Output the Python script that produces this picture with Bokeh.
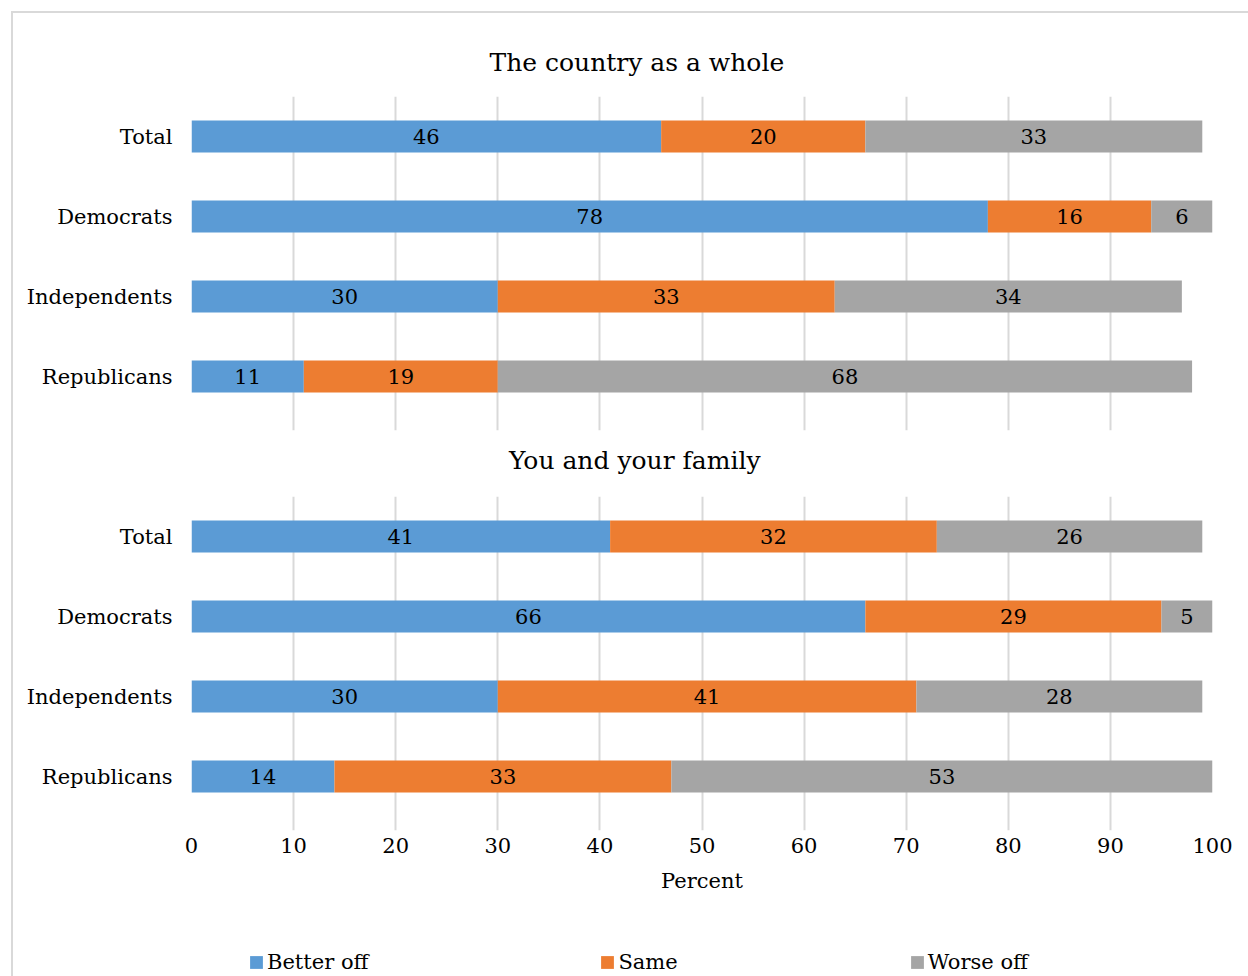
import numpy as np
from bokeh.plotting import figure
from bokeh.models import (Range1d, FixedTicker, Title, Legend, LegendItem, ColumnDataSource)
from bokeh.layouts import column
from bokeh.core.properties import value
from bokeh.embed import file_html
from bokeh.resources import INLINE

# ---------------- data ----------------
groups = ["Total", "Democrats", "Independents", "Republicans"]
series_names = ["Better off", "Same", "Worse off"]

country_better = [46, 78, 30, 11]
country_same = [20, 16, 33, 19]
country_worse = [33, 6, 34, 68]

family_better = [41, 66, 30, 14]
family_same = [32, 29, 41, 33]
family_worse = [26, 5, 28, 53]

x_ticks = [0, 10, 20, 30, 40, 50, 60, 70, 80, 90, 100]
panel_titles = ["The country as a whole", "You and your family"]
x_axis_title = "Percent"

# ---------------- style ----------------
FONT = "DejaVu Serif"
COLORS = ["#5B9BD5", "#ED7D31", "#A5A5A5"]
GRID = "#D9D9D9"
TEXT = "#000000"

OFFSET = 13          # margin (11) + border (2)
W = 1248 - OFFSET
FRAME_LEFT = 191
FRAME_RIGHT = 1212
CHART_CENTER = 636


def title_model(text, half_w, standoff):
    return Title(text=text, align="left", offset=CHART_CENTER - FRAME_LEFT - half_w,
                 text_font=FONT, text_font_size="25px", text_font_style="normal",
                 text_color=TEXT, standoff=standoff, vertical_align="bottom")


def make_panel(series, top_canvas, height, frame_top, frame_bottom, show_x):
    ypos = np.arange(len(groups))
    p = figure(width=W, height=height, output_backend="svg", toolbar_location=None,
               x_range=Range1d(0, 100), y_range=Range1d(len(groups) - 0.325, -0.5),
               min_border_left=FRAME_LEFT - OFFSET, min_border_right=W + OFFSET - FRAME_RIGHT,
               min_border_top=frame_top - top_canvas,
               min_border_bottom=top_canvas + height - frame_bottom)
    p.outline_line_color = None
    p.background_fill_color = "white"
    p.border_fill_color = "white"

    p.xgrid.ticker = FixedTicker(ticks=x_ticks)
    p.xgrid.grid_line_color = GRID
    p.xgrid.grid_line_width = 2
    p.ygrid.visible = False

    p.yaxis.ticker = FixedTicker(ticks=list(ypos))
    p.yaxis.major_label_overrides = {int(i): g for i, g in zip(ypos, groups)}
    p.yaxis.axis_line_color = None
    p.yaxis.major_tick_line_color = None
    p.yaxis.minor_tick_line_color = None
    p.yaxis.major_label_text_font = FONT
    p.yaxis.major_label_text_font_size = "21px"
    p.yaxis.major_label_text_color = TEXT
    p.yaxis.major_label_standoff = 13

    p.xaxis.ticker = FixedTicker(ticks=x_ticks)
    p.xaxis.axis_line_color = None
    p.xaxis.major_tick_line_color = None
    p.xaxis.minor_tick_line_color = None
    p.xaxis.major_label_text_font = FONT
    p.xaxis.major_label_text_font_size = "21px"
    p.xaxis.major_label_text_color = TEXT
    p.xaxis.major_label_standoff = 1
    if show_x:
        p.xaxis.axis_label = x_axis_title
        p.xaxis.axis_label_text_font = FONT
        p.xaxis.axis_label_text_font_size = "21px"
        p.xaxis.axis_label_text_font_style = "normal"
        p.xaxis.axis_label_text_color = TEXT
        p.xaxis.axis_label_standoff = 13
    else:
        p.xaxis.visible = False

    left = np.zeros(len(groups))
    for vals, color in zip(series, COLORS):
        vals = np.array(vals, dtype=float)
        right = left + vals
        src = ColumnDataSource(dict(y=ypos, left=left, right=right,
                                    mid=(left + right) / 2, lab=[str(int(v)) for v in vals]))
        p.hbar(y="y", left="left", right="right", height=0.4, source=src,
               fill_color=color, line_color=None)
        p.text(x="mid", y="y", text="lab", source=src, text_align="center",
               text_baseline="middle", text_font=value(FONT), text_font_size="21px",
               text_color=TEXT)
        left = right
    return p


# top panel (its lower border also carries the second panel's heading)
p1 = make_panel([country_better, country_same, country_worse], OFFSET, 494 - OFFSET, 96, 430, False)
p1.add_layout(title_model(panel_titles[0], 147, 39), "above")
p1.add_layout(title_model(panel_titles[1], 127.5, 27), "below")

p2 = make_panel([family_better, family_same, family_worse], 494, 406, 496, 830, True)

# legend row: a small figure whose frame holds only the legend
p3 = figure(width=W, height=76, output_backend="svg", toolbar_location=None,
            x_range=Range1d(0, 1), y_range=Range1d(0, 1),
            x_axis_location=None, y_axis_location=None,
            min_border_left=FRAME_LEFT - OFFSET, min_border_right=W + OFFSET - FRAME_RIGHT,
            min_border_top=0, min_border_bottom=0)
p3.outline_line_color = None
p3.xgrid.visible = False
p3.ygrid.visible = False
p3.border_fill_color = "white"
items = []
for name, color in zip(series_names, COLORS):
    # zero-width placeholder bar: only its style is used, for the legend swatch
    r = p3.hbar(y=[0], left=[0], right=[0], height=0, fill_color=color, line_color=None)
    items.append(LegendItem(label=name, renderers=[r]))
legend = Legend(items=items, orientation="horizontal", location=(248 - FRAME_LEFT, 2),
                padding=0, margin=0, spacing=231, glyph_width=16, glyph_height=16,
                label_standoff=3, label_text_font=FONT, label_text_font_size="21px",
                label_text_color=TEXT, border_line_color=None, background_fill_alpha=0)
p3.add_layout(legend, "center")

layout = column(p1, p2, p3, spacing=0, margin=(11, 0, 0, 11),
                styles={"border-top": "2px solid #D9D9D9", "border-left": "2px solid #D9D9D9"})

open("out.html", "w").write(file_html(layout, INLINE))
